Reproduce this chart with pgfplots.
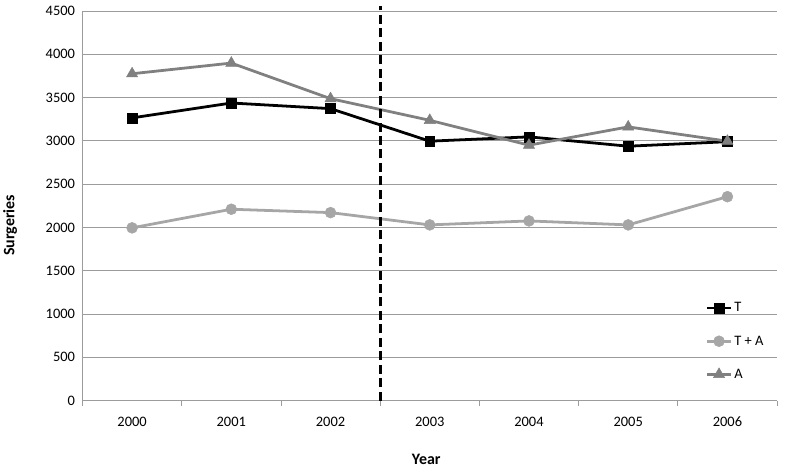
\documentclass[border=0pt]{standalone}
\usepackage{pgfplots}
\pgfplotsset{compat=1.18}
\usepackage{fontspec}
\setmainfont{Carlito}
\definecolor{tacol}{HTML}{A6A6A6}
\definecolor{acol}{HTML}{808080}
\definecolor{gridcol}{HTML}{9C9C9C}
\begin{document}
\begin{tikzpicture}
\begin{axis}[
  scale only axis,
  width=697bp, height=391bp,
  xmin=-0.5, xmax=6.5,
  ymin=0, ymax=4500,
  ytick={0,500,...,4500},
  xtick={0,...,6},
  xticklabels={2000,2001,2002,2003,2004,2005,2006},
  minor xtick={-0.5,0.5,...,6.5},
  major tick length=0pt,
  minor tick length=5bp,
  tick align=outside,
  axis x line*=bottom, axis y line*=left,
  axis line style={gridcol, line width=0.8pt, -},
  minor tick style={gridcol, line width=0.8pt},
  ymajorgrids,
  grid style={gridcol, line width=0.8pt},
  xticklabel style={yshift=-13bp},
  yticklabel style={xshift=-4bp},
  /pgf/number format/assume math mode=true,
  /pgf/number format/set thousands separator={},
  ticklabel style={font=\fontsize{14.5bp}{17bp}\selectfont},
  xlabel={\textbf{Year}},
  ylabel={\textbf{Surgeries}},
  xlabel style={at={(axis description cs:0.495,-0.151)}, anchor=center},
  ylabel style={at={(axis description cs:-0.104,0.45)}, anchor=center},
  label style={font=\fontsize{16bp}{18bp}\selectfont},
  clip=false,
  legend style={at={(axis description cs:0.897,0.262)}, anchor=north west,
    draw=none, fill=none, row sep=18.5bp, inner xsep=0pt,
    font=\fontsize{14.5bp}{17bp}\selectfont},
  legend cell align=left,
  legend image code/.code={%
    \draw[mark repeat=2, mark phase=2, #1] plot coordinates {(0bp,0bp) (12bp,0bp) (24bp,0bp)};},
]
\addplot[black, line width=2.8pt, mark=square*, mark size=5bp, mark options={solid, line width=0.5pt}]
  coordinates {(0,3265) (1,3437) (2,3372) (3,2996) (4,3046) (5,2938) (6,2990)};
\addlegendentry{T}
\addplot[tacol, line width=2.8pt, mark=*, mark size=5.5bp, mark options={solid, line width=0.5pt}]
  coordinates {(0,1995) (1,2210) (2,2171) (3,2029) (4,2075) (5,2029) (6,2355)};
\addlegendentry{T + A}
\addplot[acol, line width=2.8pt, mark=triangle*, mark size=6.5bp, mark options={solid, line width=0.5pt}]
  coordinates {(0,3775) (1,3898) (2,3487) (3,3237) (4,2950) (5,3161) (6,2996)};
\addlegendentry{A}
\addplot[black, line width=3.2pt, dash pattern=on 9bp off 4.5bp, forget plot]
  coordinates {(2.5,0) (2.5,4560)};
\end{axis}
\path (current axis.south west) ++(-80bp,-70bp) (current axis.north east) ++(8bp,11bp);
\end{tikzpicture}
\end{document}
